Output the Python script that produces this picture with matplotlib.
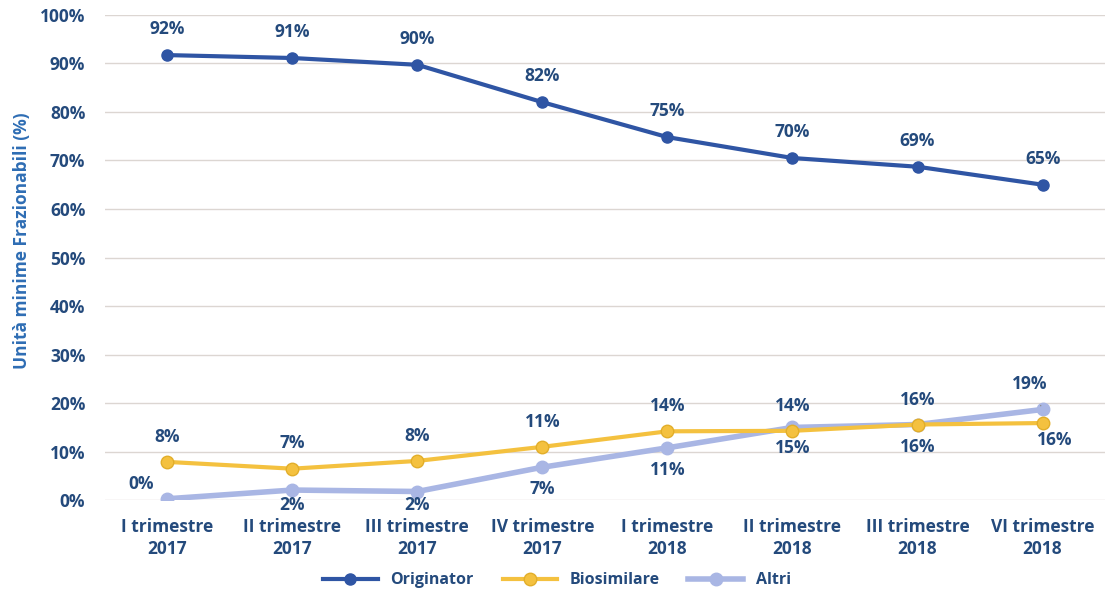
import matplotlib.pyplot as plt
from matplotlib.ticker import FuncFormatter

plt.rcParams['font.family'] = ['Open Sans', 'DejaVu Sans']

# quarters on the x axis
quarters = ['I trimestre\n2017', 'II trimestre\n2017', 'III trimestre\n2017', 'IV trimestre\n2017',
            'I trimestre\n2018', 'II trimestre\n2018', 'III trimestre\n2018', 'VI trimestre\n2018']

# share of minimum fractionable units (%)
originator = [91.7, 91.1, 89.7, 82.0, 74.8, 70.5, 68.7, 65.0]
biosimilare = [7.9, 6.5, 8.1, 11.0, 14.2, 14.3, 15.6, 15.9]
altri = [0.3, 2.1, 1.8, 6.8, 10.8, 15.0, 15.6, 18.7]

orig_labels = ['92%', '91%', '90%', '82%', '75%', '70%', '69%', '65%']
bios_labels = ['8%', '7%', '8%', '11%', '14%', '14%', '16%', '16%']
altri_labels = ['0%', '2%', '2%', '7%', '11%', '15%', '16%', '19%']

c_orig = '#2F55A4'
c_bios = '#F4C13F'
c_altri = '#A9B6E4'
c_text = '#244A7C'

fig = plt.figure(figsize=(11.14, 5.92), dpi=100)
ax = fig.add_axes([0.094, 0.155, 0.898, 0.82])

x = range(len(quarters))
ax.plot(x, altri, color=c_altri, lw=4, marker='o', ms=9, label='Altri', zorder=3)
ax.plot(x, biosimilare, color=c_bios, lw=3, marker='o', ms=9, label='Biosimilare',
        markeredgecolor='#E2AE2A', zorder=4)
ax.plot(x, originator, color=c_orig, lw=3, marker='o', ms=8, label='Originator', zorder=5)

# label offsets in points
lab = dict(ha='center', va='center', fontsize=12.5, fontweight='bold', color=c_text)
for i, (v, t) in enumerate(zip(originator, orig_labels)):
    ax.annotate(t, (i, v), xytext=(0, 18.5), textcoords='offset points', **lab)

bios_off = [(0, 18), (0, 18.5), (0, 18), (0, 18), (0, 18), (0, 18), (0, -16), (9, -12)]
for i, (v, t) in enumerate(zip(biosimilare, bios_labels)):
    ax.annotate(t, (i, v), xytext=bios_off[i], textcoords='offset points', **lab)

altri_off = [(-19, 11), (0, -10.5), (0, -10), (0, -16), (0, -16), (0, -15), (0, 18), (-9, 18.5)]
for i, (v, t) in enumerate(zip(altri, altri_labels)):
    if i == len(altri) - 1:
        ax.annotate(t, (i, v), xytext=altri_off[i], textcoords='offset points',
                    arrowprops=dict(arrowstyle='-', color='#8C8C8C', lw=1,
                                    shrinkA=8, shrinkB=3), **lab)
    else:
        ax.annotate(t, (i, v), xytext=altri_off[i], textcoords='offset points', **lab)

ax.set_xlim(-0.5, len(quarters) - 0.5)
ax.set_ylim(0, 100)
ax.set_yticks(range(0, 101, 10))
ax.yaxis.set_major_formatter(FuncFormatter(lambda v, p: f'{v:.0f}%'))
ax.set_xticks(list(x))
ax.set_xticklabels(quarters, linespacing=1.3)
ax.tick_params(length=0, labelsize=12.5, labelcolor=c_text)
ax.tick_params(axis='x', pad=13)
ax.tick_params(axis='y', pad=14)
for t in ax.get_xticklabels() + ax.get_yticklabels():
    t.set_fontweight('bold')
ax.grid(axis='y', color='#DCD6D2', lw=1)
ax.set_axisbelow(True)
for s in ax.spines.values():
    s.set_visible(False)

fig.text(0.02, 0.593, 'Unità minime Frazionabili (%)', rotation=90, ha='center', va='center',
         fontsize=12.5, fontweight='bold', color='#2E6DB4')

h, l = ax.get_legend_handles_labels()
order = [2, 1, 0]
fig.legend([h[i] for i in order], [l[i] for i in order], loc='center',
           bbox_to_anchor=(0.5, 0.02), ncol=3, frameon=False,
           prop={'weight': 'bold', 'size': 11.5}, handlelength=3.4, columnspacing=1.8,
           labelcolor=c_text)

fig.savefig('out.png', dpi=100)
